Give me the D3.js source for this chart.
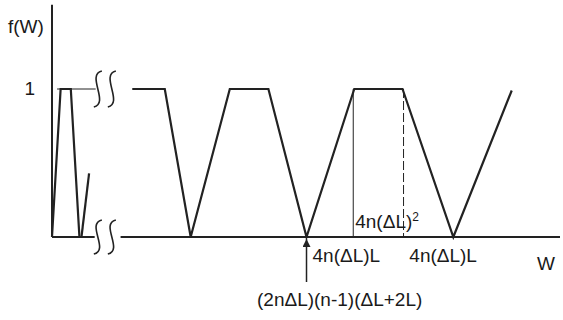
<!DOCTYPE html>
<html>
<head>
<meta charset="utf-8">
<script src="https://cdn.jsdelivr.net/npm/d3@7"></script>
<style>
  body { margin: 0; background: #fff; }
  svg text { font-family: "Liberation Sans", Arial, sans-serif; font-size: 19px; fill: #1a1a1a; }
</style>
</head>
<body>
<svg id="chart" width="563" height="320"></svg>
<script>
// data (W in arbitrary units, f(W) from 0 to 1)
var spikeW   = [0, 1.7, 3.7, 5.4];
var spikeF   = [0, 1, 1, 0];
var spike2W  = [5.8, 7.3];
var spike2F  = [0, 0.43];
var mainW    = [15.8, 22.2, 27.3, 35.0, 42.6, 50.1, 59.5, 69.0, 79.0, 90.5];
var mainF    = [1, 1, 0, 1, 1, 0, 1, 1, 0, 0.99];
var solidMarkW  = 59.3;   // start of plateau
var dashedMarkW = 69.2;   // end of plateau
var arrowW      = 50.1;
var breakW      = 10.4;   // axis break
var yLabels = ["1"];

var svg = d3.select("#chart");

// scales
var xScale = d3.scaleLinear().domain([0, 100]).range([52, 560]);
var yScale = d3.scaleLinear().domain([0, 1]).range([237, 89]);

var line = d3.line()
  .x(function(d){ return xScale(d[0]); })
  .y(function(d){ return yScale(d[1]); });

function zip(a, b) { return a.map(function(v, i){ return [v, b[i]]; }); }

// y axis
svg.append("line")
  .attr("x1", xScale(0)).attr("x2", xScale(0))
  .attr("y1", yScale(1.57)).attr("y2", yScale(0))
  .attr("stroke", "#222").attr("stroke-width", 2);

// x axis (with break)
svg.append("line")
  .attr("x1", xScale(0)).attr("x2", xScale(8.4))
  .attr("y1", yScale(0)).attr("y2", yScale(0))
  .attr("stroke", "#222").attr("stroke-width", 2);
svg.append("line")
  .attr("x1", xScale(13.5)).attr("x2", xScale(100))
  .attr("y1", yScale(0)).attr("y2", yScale(0))
  .attr("stroke", "#222").attr("stroke-width", 2);

// thin guide at level 1
svg.append("line")
  .attr("x1", xScale(1)).attr("x2", xScale(8.6))
  .attr("y1", yScale(1)).attr("y2", yScale(1))
  .attr("stroke", "#222").attr("stroke-width", 1);

// break marks
function squiggle(cx, cy, h) {
  return "M" + (cx + 4) + "," + (cy - h) +
    " C" + (cx - 12) + "," + (cy - h + 4) + " " + (cx + 12) + "," + (cy + h - 4) + " " + (cx - 4) + "," + (cy + h);
}
[[1, 18], [0, 17]].forEach(function(b){
  var cy = yScale(b[0]);
  [xScale(breakW) - 7, xScale(breakW) + 7].forEach(function(cx){
    svg.append("path")
      .attr("d", squiggle(cx, cy, b[1]))
      .attr("fill", "none").attr("stroke", "#222").attr("stroke-width", 1.6);
  });
});

// curves
[zip(spikeW, spikeF), zip(spike2W, spike2F), zip(mainW, mainF)].forEach(function(pts){
  svg.append("path")
    .attr("d", line(pts))
    .attr("fill", "none")
    .attr("stroke", "#222")
    .attr("stroke-width", 2.2)
    .attr("stroke-linejoin", "miter");
});

// plateau markers
svg.append("line")
  .attr("x1", xScale(solidMarkW)).attr("x2", xScale(solidMarkW))
  .attr("y1", yScale(1)).attr("y2", yScale(0))
  .attr("stroke", "#222").attr("stroke-width", 1);
svg.append("line")
  .attr("x1", xScale(dashedMarkW)).attr("x2", xScale(dashedMarkW))
  .attr("y1", yScale(1)).attr("y2", yScale(0))
  .attr("stroke", "#222").attr("stroke-width", 1)
  .attr("stroke-dasharray", "9,3");

// arrow
svg.append("defs").append("marker")
  .attr("id", "head")
  .attr("viewBox", "0 0 10 10")
  .attr("refX", 10).attr("refY", 5)
  .attr("markerWidth", 12).attr("markerHeight", 8)
  .attr("markerUnits", "userSpaceOnUse")
  .attr("orient", "auto")
  .append("path").attr("d", "M0,0 L10,5 L0,10 Z").attr("fill", "#222");
svg.append("line")
  .attr("x1", xScale(arrowW)).attr("x2", xScale(arrowW))
  .attr("y1", 282).attr("y2", 239)
  .attr("stroke", "#222").attr("stroke-width", 1.5)
  .attr("marker-end", "url(#head)");

// labels
svg.append("text").attr("x", 8).attr("y", 33).text("f(W)");
svg.selectAll(".ylab").data(yLabels).enter().append("text")
  .attr("x", 35).attr("y", yScale(1) + 6)
  .attr("text-anchor", "end")
  .text(function(d){ return d; });

var sq = svg.append("text").attr("x", xScale(solidMarkW) + 2).attr("y", 228).text("4n(ΔL)");
sq.append("tspan").attr("dy", -7).style("font-size", "12px").text("2");

svg.append("text").attr("x", xScale(arrowW) + 6).attr("y", 262).text("4n(ΔL)L");
svg.append("text").attr("x", xScale(79) - 44).attr("y", 262).text("4n(ΔL)L");
svg.append("text").attr("x", 537).attr("y", 270).text("W");
svg.append("text").attr("x", 257).attr("y", 306).text("(2nΔL)(n-1)(ΔL+2L)");
</script>
</body>
</html>
